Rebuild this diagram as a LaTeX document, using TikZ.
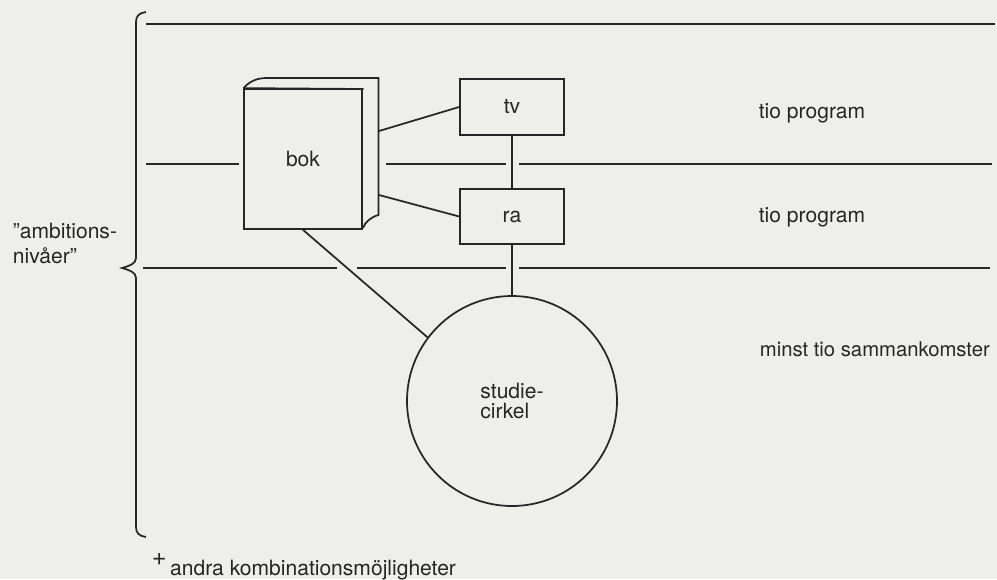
\documentclass[tikz,border=0pt]{standalone}
\usepackage{fontspec}
\setmainfont{TeX Gyre Heros}
\usepackage{tikz}

\definecolor{paper}{RGB}{238,238,235}
\definecolor{ink}{RGB}{38,38,38}

\tikzset{
    lbl/.style={inner sep=0.75pt, text=ink, font=\fontsize{15.8pt}{18.75pt}\selectfont},
    medium/.style={draw=ink, line width=1.3pt, lbl, minimum width=78pt, minimum height=42.5pt},
}

\begin{document}
\begin{tikzpicture}[x=0.75pt,y=0.75pt,yscale=-1,xscale=1, line width=1.3pt, draw=ink]
    %set diagram size: 997 x 579
    \fill [paper] (0,0) rectangle (997,579);
    \useasboundingbox (0,0) rectangle (997,579);

    %Shape: Brace [id:brace] 
    \draw   (146,12) .. controls (139,13) and (136,16) .. (136,22) -- (136,258) .. controls (136,264) and (129,266) .. (122,268) .. controls (129,270) and (136,272) .. (136,278) -- (136,527) .. controls (136,533) and (139,536) .. (146,537) ;

    %Straight Lines [id:level1] 
    \draw    (146,24) -- (995,24) ;
    %Straight Lines [id:level2] 
    \draw    (146,164) -- (239,164) ;
    \draw    (386,164) -- (506,164) ;
    \draw    (519,164) -- (992,164) ;
    %Straight Lines [id:level3] 
    \draw    (143,268) -- (337,268) ;
    \draw    (357,268) -- (506,268) ;
    \draw    (519,268) -- (990,268) ;

    %Shape: Book [id:bok] 
    \draw (303,159) node (bok) [medium, fill=paper, minimum width=88pt, minimum height=105pt]  {bok};
    \draw   (bok.north west) .. controls (250,81) and (257,78) .. (267,78) -- (378.5,78) -- (378.5,215) .. controls (371,217) and (365,222) .. (363,228) ;
    \draw   (bok.north west) -- (363.5,89) ;
    \coordinate (spineA) at (379,131) ;
    \coordinate (spineB) at (379,195) ;

    %Shape: Rectangle [id:tv] 
    \draw (512,107) node (tv) [medium]  {tv};
    %Shape: Rectangle [id:ra] 
    \draw (512,216.5) node (ra) [medium, minimum height=41pt]  {ra};
    %Shape: Circle [id:cirkel] 
    \draw (512,401) node (cirkel) [circle, draw=ink, line width=1.3pt, lbl, align=left, minimum size=157.5pt, font=\fontsize{15.8pt}{15.5pt}\selectfont]  {studie-\\cirkel};

    %Straight Lines [id:links] 
    \draw    (spineA) -- (tv.west) ;
    \draw    (spineB) -- (ra.west) ;
    \draw    (tv.south) -- (ra.north) ;
    \draw    (ra.south) -- (cirkel.north) ;
    \draw    (bok.south) -- (cirkel.143.5) ;

    % Text Node
    \draw (757,118.5) node (tvtext) [anchor=base west][lbl]  {tio program};
    % Text Node
    \draw (757,222) node (ratext) [anchor=base west][lbl]  {tio program};
    % Text Node
    \draw (758,356) node (cirkeltext) [anchor=base west][lbl, font=\fontsize{15.2pt}{18pt}\selectfont]  {minst tio sammankomster};
    % Text Node
    \draw (11,263) node (niva) [anchor=base west][lbl, align=left, font=\fontsize{15.8pt}{18.75pt}\selectfont]  {''ambitions-\\niv\r{a}er''};
    % Text Node
    \draw (150,575) node (andra) [anchor=base west][lbl]  {\raisebox{7pt}{\fontsize{19pt}{19pt}\selectfont\smash{+}}\,andra kombinationsmöjligheter};

\end{tikzpicture}
\end{document}
